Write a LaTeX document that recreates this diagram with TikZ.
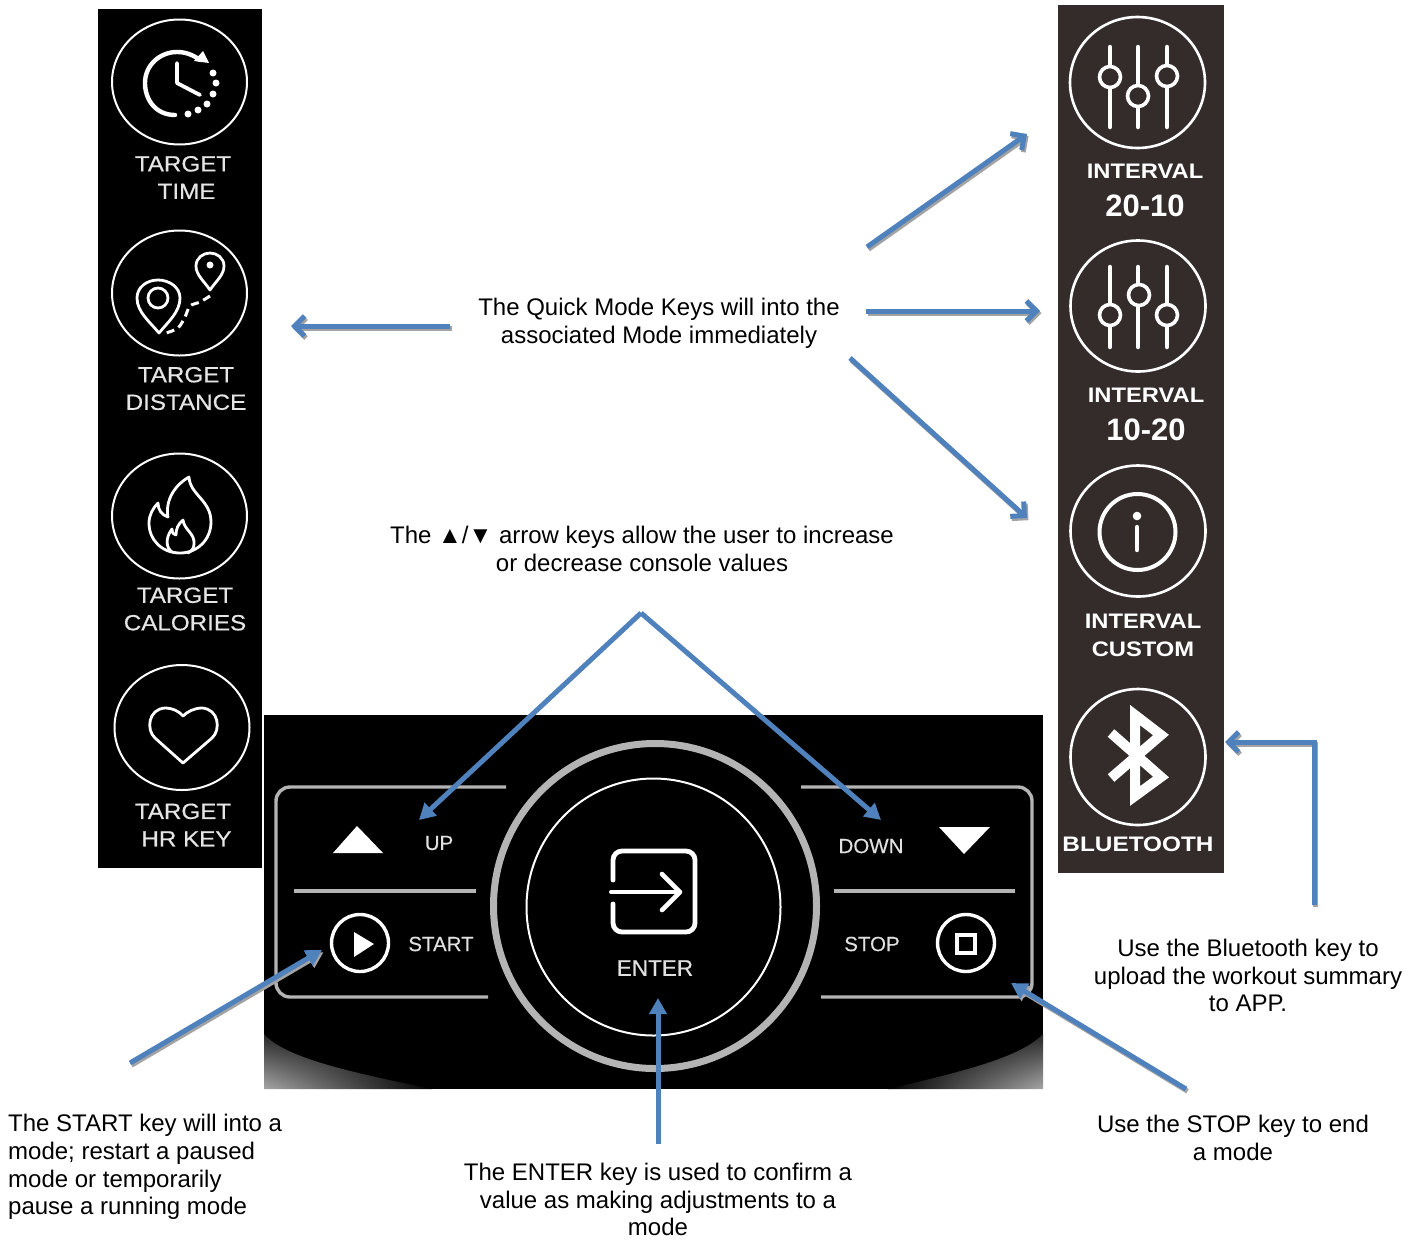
\documentclass[tikz,border=0pt]{standalone}
\usepackage{fontspec}
\setmainfont{Liberation Sans}
\usetikzlibrary{arrows.meta,shapes.geometric,shadings}
\definecolor{arrowblue}{HTML}{4F81BD}
\definecolor{arrowshade}{HTML}{A3A3A3}
\definecolor{panelbrown}{HTML}{332C2A}
\definecolor{trimgray}{HTML}{B4B4B4}
\newcommand{\wide}[1]{\scalebox{1.1}[1]{#1}}
\newcommand{\widebf}[1]{\scalebox{1.13}[1]{#1}}
\tikzstyle{note}=[font=\fontsize{24}{27.7}\selectfont,align=center,inner sep=0pt,text=black]
\tikzstyle{ring}=[draw=white,shape=ellipse,line width=2pt,minimum width=135pt,minimum height=125pt,inner sep=0pt]
\tikzstyle{iring}=[ring,line width=2.6pt,minimum height=131pt]
\tikzstyle{lefttag}=[text=white!90!black,font=\fontsize{22}{27.5}\selectfont\addfontfeature{FakeBold=0.5},align=center,inner sep=0pt]
\tikzstyle{righttag}=[text=white,font=\fontsize{21}{28}\selectfont\bfseries,align=center,inner sep=0pt]
\tikzstyle{keytag}=[text=white!88!black,font=\fontsize{20.5}{24}\selectfont\addfontfeature{FakeBold=0.3},inner sep=0pt]
\tikzstyle{icon}=[draw=white,line width=2.8pt,line cap=round,line join=round]
\tikzstyle{slider}=[draw=white,line width=4.5pt,line cap=round]
\tikzstyle{knob}=[draw=white,fill=panelbrown,shape=circle,line width=3.6pt,minimum size=21pt,inner sep=0pt]
\tikzstyle{trim}=[draw=trimgray,line width=3.4pt,rounded corners=14pt]
\tikzstyle{quick}=[draw=arrowblue,line width=5pt,-{Straight Barb[length=10pt,width=20pt,line width=5pt]}]
\tikzstyle{keyarrow}=[draw=arrowblue,line width=5pt,-{Triangle[length=16pt,width=17pt]}]
\tikzstyle{shadebehind}=[draw=arrowshade,transform canvas={shift={(1.5pt,-2.2pt)}}]
\begin{document}
\begin{tikzpicture}[x=1pt,y=-1pt]
\useasboundingbox (0,0) rectangle (1421,1240);
% panels
\fill[black] (98,9) rectangle (262,868);
\fill[panelbrown] (1058,5) rectangle (1224,873);
\fill[black] (264,715) rectangle (1043,1089);
\shade[lower left=gray!70,upper left=black!85,lower right=black,upper right=black] (264,1034) .. controls (285,1058) and (350,1072) .. (432,1089) -- (264,1089) -- cycle;
\shade[lower right=gray!70,upper right=black!85,lower left=black,upper left=black] (1043,1034) .. controls (1020,1058) and (960,1072) .. (888,1089) -- (1043,1089) -- cycle;
% left column
\node[ring] (Time) at (179.5,82) {};
\node[ring] (Dist) at (179.5,293) {};
\node[ring] (Cal) at (179.5,516) {};
\node[ring] (Hr) at (182,727.5) {};
\node[lefttag] (TimeTag) at (183,177.5) {\wide{TARGET}\\\hspace*{7pt}\wide{TIME}};
\node[lefttag] (DistTag) at (186,388.5) {\wide{TARGET}\\\wide{DISTANCE}};
\node[lefttag] (CalTag) at (185,609) {\wide{TARGET}\\\wide{CALORIES}};
\node[lefttag] (HrTag) at (183,825) {\wide{TARGET}\\\hspace*{7pt}\wide{HR KEY}};
\draw[icon,line width=4.4pt] (175,115) .. controls (156,115) and (145,100) .. (145,83) .. controls (145,65) and (160,52) .. (177,52) .. controls (186,52) and (193,55) .. (200,60);
\fill[white] (203,51) -- (209,63) -- (194,61) -- cycle;
\draw[icon,line width=3.8pt] (177,63) -- (177,83) -- (200,95);
\foreach \x/\y in {213/73,216/83,213/94,207/104,198/110,188/114}
  \fill[white] (\x,\y) circle (3.5pt);
\draw[icon] (159,333) .. controls (150,322) and (137,312) .. (137,298) .. controls (137,287) and (147,280) .. (158,280) .. controls (169,280) and (180,287) .. (180,298) .. controls (180,312) and (168,322) .. (159,333) -- cycle;
\draw[icon] (158,298) circle (10pt);
\draw[icon] (210,290) .. controls (204,281) and (196,275) .. (196,266) .. controls (196,258) and (203,253) .. (210,253) .. controls (217,253) and (224,258) .. (224,266) .. controls (224,275) and (216,281) .. (210,290) -- cycle;
\fill[white] (210,265) circle (3.5pt);
\draw[icon,line width=3pt,dash pattern=on 8pt off 5pt,line cap=butt] plot[smooth] coordinates {(210,296) (200,302) (190,306) (185,317) (178,328) (166,333)};
\draw[icon] (189,477) .. controls (190,495) and (211,500) .. (211,522) .. controls (211,540) and (197,553) .. (180,553) .. controls (162,553) and (149,540) .. (149,523) .. controls (149,515) and (153,508) .. (158,503) .. controls (158,510) and (162,515) .. (168,517) .. controls (165,500) and (175,485) .. (189,477) -- cycle;
\draw[icon] (172,552) .. controls (166,548) and (165,538) .. (172,529) .. controls (172,533) and (174,535) .. (176,535) .. controls (176,529) and (178,524) .. (183,520) .. controls (184,530) and (195,533) .. (194,544) .. controls (194,548) and (192,551) .. (188,553);
\draw[icon] (183,763) -- (155,738) .. controls (146,730) and (148,709) .. (165,708) .. controls (173,708) and (180,712) .. (183,716) .. controls (187,712) and (194,708) .. (202,708) .. controls (219,709) and (221,730) .. (212,738) -- cycle;
% right column
\node[iring] (Int1) at (1137.5,82.5) {};
\node[iring] (Int2) at (1138,306) {};
\node[iring] (Int3) at (1138,531) {};
\node[iring,minimum height=136pt] (Blue) at (1138,757) {};
\node[righttag] (Tag1) at (1145,171) {\widebf{INTERVAL}};
\node[righttag,font=\fontsize{31}{34}\selectfont\bfseries] (Val1) at (1145,206) {20-10};
\node[righttag] (Tag2) at (1146,395) {\widebf{INTERVAL}};
\node[righttag,font=\fontsize{31}{34}\selectfont\bfseries] (Val2) at (1146,430) {10-20};
\node[righttag] (Tag3) at (1143,635) {\widebf{INTERVAL}\\\widebf{CUSTOM}};
\node[righttag] (Tag4) at (1138,844) {\scalebox{1.16}[1]{BLUETOOTH}};
\foreach \x in {1110,1138,1167} {
  \draw[slider] (\x,47) -- (\x,127);
  \draw[slider] (\x,267) -- (\x,347);
}
\node[knob] (K1) at (1110,77) {};
\node[knob] (K2) at (1138,96) {};
\node[knob] (K3) at (1167,76) {};
\node[knob] (K4) at (1110,315) {};
\node[knob] (K5) at (1139,295) {};
\node[knob] (K6) at (1167,315) {};
\draw[draw=white,line width=4pt] (1137.5,532) circle (38pt);
\fill[white] (1137,516) circle (4.3pt);
\draw[slider,line width=4.4pt] (1137,527) -- (1137,550);
\draw[draw=white,line width=10pt,miter limit=10] (1111,733) -- (1161,777) -- (1135,796) -- (1135,715) -- (1161,735) -- (1111,778);
% key panel
\draw[trim] (506,787) -- (276,787) -- (276,997) -- (488,997);
\draw[trim] (801,787) -- (1032,787) -- (1032,997) -- (821,997);
\draw[draw=trimgray,line width=3.2pt] (294,891) -- (476,891);
\draw[draw=trimgray,line width=3.2pt] (834,891) -- (1015,891);
\node[draw=trimgray,shape=ellipse,line width=7pt,minimum width=323pt,minimum height=325pt,inner sep=0pt] (Outer) at (655,906) {};
\node[draw=white,shape=ellipse,line width=2pt,minimum width=254pt,minimum height=257pt,inner sep=0pt] (Inner) at (653.5,907) {};
\fill[white] (333,853) -- (357,826) -- (383,853) -- cycle;
\fill[white] (939,827) -- (990,827) -- (964,854) -- cycle;
\node[draw=white,shape=circle,line width=3.4pt,minimum size=57pt,inner sep=0pt] (Play) at (360,943) {};
\fill[white] (354,932) -- (374,944) -- (354,957) -- cycle;
\node[draw=white,shape=circle,line width=3.4pt,minimum size=57pt,inner sep=0pt] (Stop) at (966,943) {};
\draw[draw=white,line width=3.8pt] (957,935) rectangle (975,953);
\draw[icon,line width=4.8pt,rounded corners=9pt] (613,880) -- (613,851) -- (695,851) -- (695,932) -- (613,932) -- (613,904);
\draw[icon,line width=4pt] (611,892) -- (679,892);
\draw[icon,line width=4.6pt] (662,874) -- (680,892) -- (662,910);
\node[keytag] (Up) at (439,843) {UP};
\node[keytag] (Start) at (441,944) {START};
\node[keytag,font=\fontsize{22.5}{24}\selectfont\addfontfeature{FakeBold=0.3}] (Enter) at (655,968) {ENTER};
\node[keytag] (Down) at (871,846) {DOWN};
\node[keytag] (StopTag) at (872,944) {STOP};
% notes
\node[note] (QuickNote) at (659,323.5) {The Quick Mode Keys will into the\\associated Mode immediately};
\node[note] (ArrowNote) at (642,549) {The ▲/▼ arrow keys allow the user to increase\\or decrease console values};
\node[note] (BlueNote) at (1248,975.5) {Use the Bluetooth key to\\upload the workout summary\\to APP.};
\node[note,align=left,anchor=west] (StartNote) at (8,1167) {The START key will into a\\mode; restart a paused\\mode or temporarily\\pause a running mode};
\node[note] (EnterNote) at (658,1199.5) {The ENTER key is used to confirm a\\value as making adjustments to a\\mode};
\node[note] (StopNote) at (1233,1138) {Use the STOP key to end\\a mode};
% arrow ends
\coordinate (Q0) at (450,326);
\coordinate (Q0e) at (291,326);
\coordinate (Q1) at (867,247);
\coordinate (Q1e) at (1027,134);
\coordinate (Q2) at (866,311);
\coordinate (Q2e) at (1040,311);
\coordinate (Q3) at (850,358);
\coordinate (Q3e) at (1027,518);
\coordinate (B0) at (1314,905);
\coordinate (B0e) at (1225,742);
\coordinate (Apex) at (641,613);
\coordinate (UpEnd) at (419,820);
\coordinate (DownEnd) at (881,820);
\coordinate (S0) at (130,1063);
\coordinate (S0e) at (322,950);
\coordinate (E0) at (658,1144);
\coordinate (E0e) at (658,998);
\coordinate (H0) at (1186,1089);
\coordinate (H0e) at (1011,983);
\foreach \a/\b in {Q0/Q0e,Q1/Q1e,Q2/Q2e,Q3/Q3e}
  \draw[quick,shadebehind] (\a) -- (\b);
\draw[quick,shadebehind] (B0) |- (B0e);
\draw[keyarrow,shadebehind] (S0) -- (S0e);
\draw[keyarrow,shadebehind] (H0) -- (H0e);
\draw[quick] (Q0) -- (Q0e);
\draw[quick] (Q1) -- (Q1e);
\draw[quick] (Q2) -- (Q2e);
\draw[quick] (Q3) -- (Q3e);
\draw[quick] (B0) |- (B0e);
\draw[keyarrow] (Apex) -- (UpEnd);
\draw[keyarrow] (Apex) -- (DownEnd);
\draw[keyarrow] (S0) -- (S0e);
\draw[keyarrow] (E0) -- (E0e);
\draw[keyarrow] (H0) -- (H0e);
\end{tikzpicture}
\end{document}
